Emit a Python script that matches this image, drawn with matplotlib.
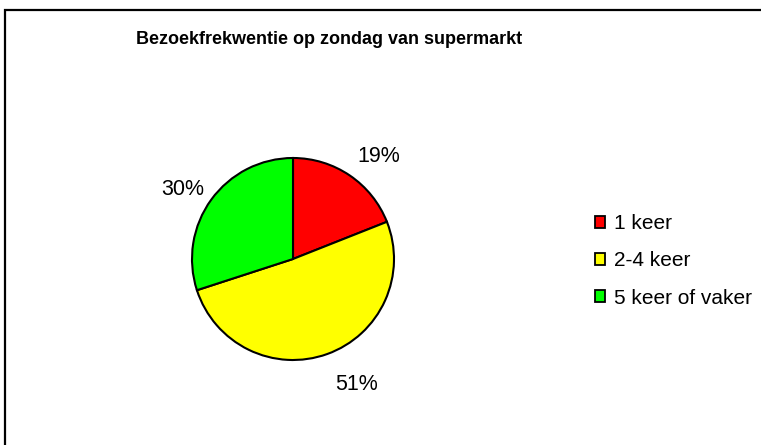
import matplotlib.pyplot as plt
from matplotlib.patches import Rectangle, Patch

plt.rcParams['font.family'] = ['Liberation Sans', 'DejaVu Sans']

categories = ['1 keer', '2-4 keer', '5 keer of vaker']
shares = [19, 51, 30]
colors = ['#FF0000', '#FFFF00', '#00FF00']
title = 'Bezoekfrekwentie op zondag van supermarkt'

W, H = 761, 445
fig = plt.figure(figsize=(W / 100, H / 100), dpi=100)

# outer frame (only left and top are visible in the crop)
fig.patches.append(Rectangle((5 / W, -0.1), 1.2, 1.1 - 10 / H, transform=fig.transFigure,
                             fill=False, edgecolor='black', linewidth=1.6))

# pie axes: centre (293, 259) px, radius ~101 px
cx, cy, r = 293, 259, 101
half = 150
ax = fig.add_axes([(cx - half) / W, (H - cy - half) / H, 2 * half / W, 2 * half / H])

wedges, texts, autotexts = ax.pie(shares, colors=colors, startangle=90, counterclock=False,
                                  autopct='%1.0f%%', pctdistance=1.34,
                                  wedgeprops=dict(edgecolor='black', linewidth=1.5),
                                  textprops=dict(fontsize=15.5, color='#000000'))
# pie() resets the limits, so set them afterwards
lim = half / r
ax.set_xlim(-lim, lim)
ax.set_ylim(-lim, lim)
ax.set_aspect('equal')
ax.axis('off')

# nudge the percentage labels (pixels) to where the original puts them
nudges = [(10, -9), (18, 2), (-1, -10)]
for t, (dx, dy) in zip(autotexts, nudges):
    x, y = t.get_position()
    t.set_position((x + dx / r, y + dy / r))

fig.text(329 / W, 1 - 40 / H, title, ha='center', va='center', fontsize=13, fontweight='bold')

handles = [Patch(facecolor=c, edgecolor='black', linewidth=1.3) for c in colors]
fig.legend(handles, categories, loc='center left', bbox_to_anchor=(595 / W, 1 - 261 / H),
           frameon=False, fontsize=15, handlelength=0.5, handleheight=0.5,
           handletextpad=0.4, labelspacing=0.87, borderpad=0, borderaxespad=0)

fig.savefig('out.png', dpi=100)
